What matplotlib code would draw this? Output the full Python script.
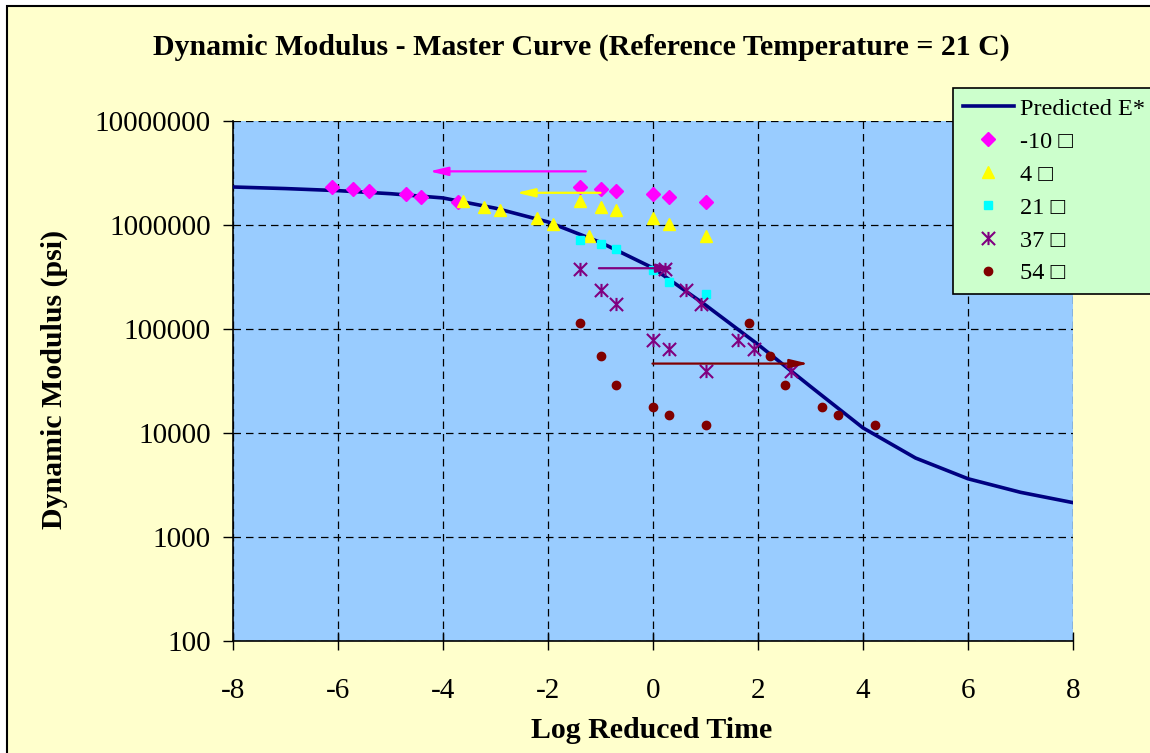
import numpy as np
import matplotlib
matplotlib.use("Agg")
import matplotlib.pyplot as plt
from matplotlib.patches import Rectangle
from matplotlib.path import Path
from matplotlib.ticker import FixedLocator, FuncFormatter

plt.rcParams['font.family'] = ['Liberation Serif', 'DejaVu Sans']
plt.rcParams['axes.unicode_minus'] = False

# master curve (log reduced time vs E*)
curve_x = [-8, -7, -6, -5, -4, -3, -2, -1, 0, 1, 2, 3, 4, 5, 6, 7, 8]
curve_E = [2.32e6, 2.24e6, 2.14e6, 2.0e6, 1.82e6, 1.45e6, 1.07e6, 6.8e5, 3.86e5,
           1.7e5, 7.1e4, 2.8e4, 1.12e4, 5.75e3, 3.63e3, 2.69e3, 2.14e3]

# measured data, log loading time at each temperature
log_time = [-1.4, -1.0, -0.7, 0.0, 0.3, 1.0]
E_m10 = [2.30e6, 2.20e6, 2.12e6, 1.97e6, 1.86e6, 1.65e6]
E_4 = [1.71e6, 1.50e6, 1.38e6, 1.16e6, 1.02e6, 7.9e5]
E_21 = [7.23e5, 6.6e5, 5.83e5, 3.66e5, 2.83e5, 2.16e5]
E_37 = [3.75e5, 2.36e5, 1.75e5, 7.83e4, 6.38e4, 3.97e4]
E_54 = [1.13e5, 5.46e4, 2.91e4, 1.77e4, 1.49e4, 1.20e4]
temps = ['-10', '4', '21', '37', '54']
log_shift = [-4.71, -2.21, 0.0, 1.62, 3.22]

# shift arrows
arrow_tail = [-1.28, -1.0, -1.03, -0.01]
arrow_head = [-4.26, -2.6, 0.42, 2.96]
arrow_E = [3.28e6, 2.04e6, 3.84e5, 4.65e4]
arrow_col = ['#FF00FF', '#FFFF00', '#800080', '#800000']

# excel style star: X plus vertical bar
star = Path([(-1, -1), (1, 1), (-1, 1), (1, -1), (0, -1), (0, 1)],
            [Path.MOVETO, Path.LINETO, Path.MOVETO, Path.LINETO, Path.MOVETO, Path.LINETO])

fig = plt.figure(figsize=(11.5, 7.53), dpi=100, facecolor='white')
fig.patches.append(Rectangle((7/1150, -0.1), 1.2, 1.1 - 6/753, transform=fig.transFigure,
                             facecolor='#FFFFCC', edgecolor='black', lw=1.5, zorder=-10))

ax = fig.add_axes([233/1150, 1-641/753, 840/1150, 520/753])
ax.set_facecolor('#99CCFF')

ax.plot(curve_x, curve_E, color='#000080', lw=2.6, label='Predicted E*', zorder=3)

series = [E_m10, E_4, E_21, E_37, E_54]
styles = [dict(marker='D', color='#FF00FF', ms=7),
          dict(marker='^', color='#FFFF00', ms=8),
          dict(marker='s', color='#00FFFF', ms=6),
          dict(marker=star, color='#800080', ms=9.5, mew=1.5),
          dict(marker='o', color='#800000', ms=6)]
for E, t, sh, st in zip(series, temps, log_shift, styles):
    ax.plot(log_time, E, ls='none', label=t + ' \u25a1', zorder=4, **st)
    if sh != 0:
        ax.plot(np.array(log_time) + sh, E, ls='none', zorder=4, **st)

for xt, xh, ye, c in zip(arrow_tail, arrow_head, arrow_E, arrow_col):
    ax.annotate('', xy=(xh, ye), xytext=(xt, ye),
                arrowprops=dict(arrowstyle='-|>,head_length=0.55,head_width=0.13',
                                color=c, lw=1.6, shrinkA=0, shrinkB=0,
                                mutation_scale=20), zorder=5)

ax.set_yscale('log')
ax.set_xlim(-8, 8)
ax.set_ylim(100, 1e7)
ax.xaxis.set_major_locator(FixedLocator(range(-8, 9, 2)))
ax.yaxis.set_major_locator(FixedLocator([1e2, 1e3, 1e4, 1e5, 1e6, 1e7]))
ax.yaxis.set_minor_locator(FixedLocator([]))
ax.yaxis.set_major_formatter(FuncFormatter(lambda v, p: '%d' % round(v)))
ax.grid(True, color='black', ls=(0, (6, 4)), lw=0.9)
ax.set_axisbelow(True)
for s in ['top', 'right']:
    ax.spines[s].set_visible(False)
ax.spines['left'].set_linewidth(1.2)
ax.spines['bottom'].set_linewidth(1.2)
ax.tick_params(axis='y', labelsize=21, length=7, width=1, pad=9)
ax.tick_params(axis='x', labelsize=21, length=13, width=1, pad=20, direction='inout')

fig.text(581/1150, 1-47/753, 'Dynamic Modulus - Master Curve (Reference Temperature = 21 C)',
         ha='center', va='center', fontsize=21.5, fontweight='bold')
fig.text(652/1150, 1-730/753, 'Log Reduced Time', ha='center', va='center',
         fontsize=21.5, fontweight='bold')
fig.text(54/1150, 1-379/753, 'Dynamic Modulus (psi)', ha='center', va='center',
         rotation=90, fontsize=21.5, fontweight='bold')

leg = fig.legend(loc='upper left', bbox_to_anchor=(953/1150, 1-88/753),
                 bbox_transform=fig.transFigure, borderaxespad=0, numpoints=1,
                 prop={'family': ['Liberation Serif', 'DejaVu Sans'], 'size': 17.5},
                 handlelength=2.1, handletextpad=0.25, labelspacing=0.45,
                 borderpad=0.4, fancybox=False, framealpha=1)
leg.get_frame().set_facecolor('#CCFFCC')
leg.get_frame().set_edgecolor('black')
leg.get_frame().set_linewidth(1.2)

fig.savefig('out.png', dpi=100, facecolor=fig.get_facecolor())
